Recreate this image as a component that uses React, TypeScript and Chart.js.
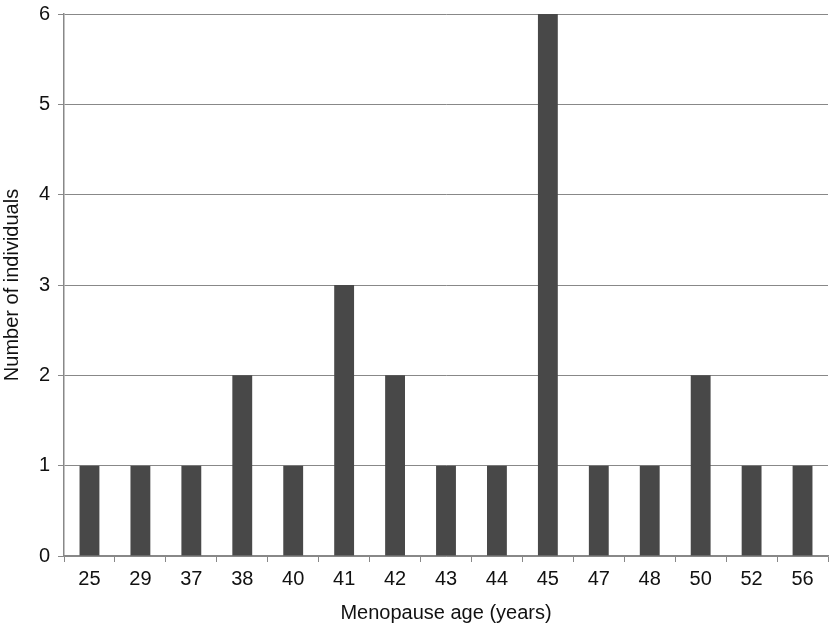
import React, { useEffect, useRef } from "react";
import { Chart, registerables } from "chart.js";
Chart.register(...registerables);

const ages = ["25", "29", "37", "38", "40", "41", "42", "43", "44", "45", "47", "48", "50", "52", "56"];
const counts = [1, 1, 1, 2, 1, 3, 2, 1, 1, 6, 1, 1, 2, 1, 1];
const yTicks = [0, 1, 2, 3, 4, 5, 6];

export default function App() {
  const ref = useRef<HTMLCanvasElement | null>(null);
  useEffect(() => {
    if (!ref.current) return;
    const font = { family: "'Liberation Sans', Arial, sans-serif", size: 20 };
    const chart = new Chart(ref.current, {
      type: "bar",
      data: {
        labels: ages,
        datasets: [
          {
            data: counts,
            backgroundColor: "#484848",
            borderWidth: 0,
            barPercentage: 0.39,
            categoryPercentage: 1,
          },
        ],
      },
      options: {
        animation: false,
        responsive: false,
        maintainAspectRatio: false,
        layout: { padding: { left: 0, right: 1, top: 14, bottom: 0 } },
        plugins: { legend: { display: false }, tooltip: { enabled: false } },
        scales: {
          x: {
            grid: {
              offset: true,
              drawOnChartArea: false,
              drawTicks: true,
              tickLength: 6,
              color: "#888888",
            },
            border: { color: "#888888", width: 1.5 },
            ticks: { color: "#111111", font, padding: 5 },
            title: {
              display: true,
              text: "Menopause age (years)",
              color: "#111111",
              font,
              padding: { top: 8, bottom: 1 },
            },
            afterFit: (s: any) => {
              s.height = 70;
              s.paddingLeft = 0;
              s.paddingRight = 0;
            },
          },
          y: {
            min: 0,
            max: 6,
            afterBuildTicks: (s: any) => {
              s.ticks = yTicks.map((v) => ({ value: v }));
            },
            grid: { color: "#888888", lineWidth: 1, tickLength: 6 },
            border: { color: "#888888", width: 1.5 },
            ticks: { color: "#111111", font, padding: 8, stepSize: 1 },
            title: {
              display: true,
              text: "Number of individuals",
              color: "#111111",
              font,
              padding: { top: 0, bottom: 6 },
            },
            afterFit: (s: any) => {
              s.width = 64;
              s.paddingTop = 0;
              s.paddingBottom = 0;
            },
          },
        },
      },
    });
    return () => chart.destroy();
  }, []);
  return (
    <div style={{ position: "fixed", left: 0, top: 0, width: 829, height: 626, background: "#fff" }}>
      <canvas ref={ref} width={829} height={626} style={{ width: 829, height: 626 }} />
    </div>
  );
}
